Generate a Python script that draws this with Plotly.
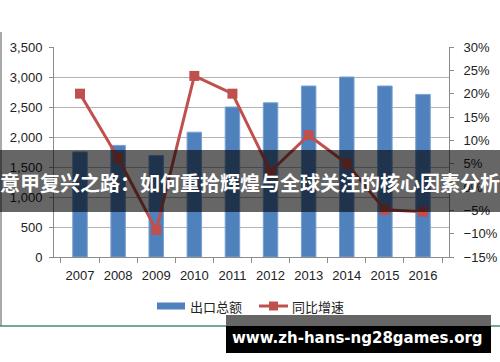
import plotly.graph_objects as go

years = ["2007", "2008", "2009", "2010", "2011", "2012", "2013", "2014", "2015", "2016"]
export_total = [1750, 1860, 1690, 2080, 2500, 2570, 2850, 3000, 2850, 2710]
yoy_growth = [20.0, 6.2, -9.2, 23.8, 20.0, 3.3, 11.1, 5.0, -4.9, -5.3]

bar_name = "出口总额"
line_name = "同比增速"
banner_text = "意甲复兴之路：如何重拾辉煌与全球关注的核心因素分析"
watermark = "www.zh-hans-ng28games.org"

W, H = 500, 362
L, R, T, B = 54, 51, 47, 105
pw, ph = W - L - R, H - T - B

def px(x):
    return (x - L) / pw

def py(y):
    return (H - B - y) / ph

bar_color = "#4f81bd"
line_color = "#c0504d"
tick_font = dict(family="Liberation Sans, Arial, sans-serif", size=13, color="#222222")
legend_font = dict(family="Noto Sans CJK SC", size=13, color="#222222")
axis_col = "#8c8c8c"

fig = go.Figure()
fig.add_trace(go.Bar(
    x=years, y=export_total, name=bar_name,
    marker=dict(color=bar_color, line=dict(color="#7aa1d2", width=1)),
    yaxis="y", showlegend=False,
))
fig.add_trace(go.Scatter(
    x=years, y=yoy_growth, name=line_name, mode="lines+markers",
    line=dict(color=line_color, width=3),
    marker=dict(symbol="square", size=10, color=line_color),
    yaxis="y2", showlegend=False,
))

legend_y = 306
shapes = [
    # chart frame (left border, bottom border)
    dict(type="line", xref="paper", yref="paper", x0=px(1), x1=px(1), y0=py(32), y1=py(326),
         line=dict(color="#8c8c8c", width=1.5), layer="above"),
    dict(type="line", xref="paper", yref="paper", x0=px(0), x1=px(500), y0=py(326), y1=py(326),
         line=dict(color="#3f8f70", width=1.5), layer="above"),
    # legend keys
    dict(type="rect", xref="paper", yref="paper", x0=px(157), x1=px(185),
         y0=py(legend_y + 3.5), y1=py(legend_y - 3.5),
         fillcolor=bar_color, line=dict(width=0)),
    dict(type="line", xref="paper", yref="paper", x0=px(259), x1=px(288),
         y0=py(legend_y), y1=py(legend_y), line=dict(color=line_color, width=3)),
    dict(type="rect", xref="paper", yref="paper", x0=px(269), x1=px(278),
         y0=py(legend_y + 4.5), y1=py(legend_y - 4.5),
         fillcolor=line_color, line=dict(width=0)),
    # banner
    dict(type="rect", xref="paper", yref="paper", x0=px(-5), x1=px(505), y0=py(212), y1=py(150),
         fillcolor="rgba(0,0,0,0.6)", line=dict(width=0), layer="above"),
    # watermark box
    dict(type="rect", xref="paper", yref="paper", x0=px(226), x1=px(491), y0=py(326), y1=py(315),
         fillcolor="#666666", line=dict(width=0), layer="above"),
    dict(type="rect", xref="paper", yref="paper", x0=px(226), x1=px(491), y0=py(353), y1=py(326),
         fillcolor="#000000", line=dict(width=0), layer="above"),
]

annotations = [
    dict(text=bar_name, xref="paper", yref="paper", x=px(188), y=py(legend_y),
         xanchor="left", yanchor="middle", showarrow=False, font=legend_font),
    dict(text=line_name, xref="paper", yref="paper", x=px(290), y=py(legend_y),
         xanchor="left", yanchor="middle", showarrow=False, font=legend_font),
    dict(text=banner_text, xref="paper", yref="paper", x=px(250), y=py(183),
         xanchor="center", yanchor="middle", showarrow=False,
         font=dict(family="Noto Sans CJK SC", size=20, color="white", weight="bold")),
    dict(text=watermark, xref="paper", yref="paper", x=px(357.5), y=py(338),
         xanchor="center", yanchor="middle", showarrow=False,
         font=dict(family="DejaVu Sans, sans-serif", size=15, color="white", weight="bold")),
]

fig.update_layout(
    width=W, height=H,
    margin=dict(l=L, r=R, t=T, b=B, pad=0, autoexpand=False),
    paper_bgcolor="white", plot_bgcolor="white",
    bargap=0.62,
    showlegend=False,
    hovermode=False,
    xaxis=dict(showline=True, linecolor=axis_col, linewidth=1, ticks="outside",
               tickson="boundaries", ticklen=5, tickcolor=axis_col, tickfont=tick_font,
               ticklabelstandoff=6,
               tickangle=0, automargin=False, showgrid=False),
    yaxis=dict(range=[0, 3500], dtick=500, tickformat=",", showline=True, linecolor=axis_col,
               linewidth=1, ticks="outside", ticklen=4, tickcolor=axis_col, tickfont=tick_font,
               ticklabelstandoff=4, automargin=False,
               showgrid=True, gridcolor="#b3b3b3", gridwidth=1, zeroline=False),
    yaxis2=dict(range=[-15, 30], dtick=5, ticksuffix="%", overlaying="y", side="right",
                showline=True, linecolor=axis_col, linewidth=1, ticks="outside", ticklen=4,
                ticklabelstandoff=7, automargin=False,
                tickcolor=axis_col, tickfont=tick_font, showgrid=False, zeroline=False),
    shapes=shapes,
    annotations=annotations,
)

fig.write_html("out.html", config={"displayModeBar": False},
               post_script="document.body.style.margin='0';document.body.style.overflow='hidden';")
